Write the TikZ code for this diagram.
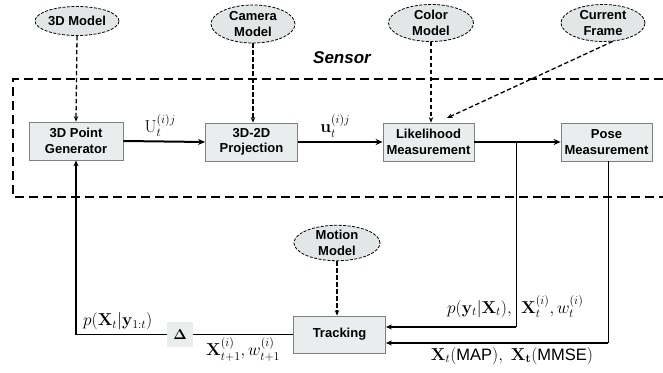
\documentclass[tikz,border=0pt]{standalone}
\usepackage{amsmath}
\usepackage[no-math]{fontspec}
\setsansfont{Liberation Sans}
\usetikzlibrary{shapes.geometric,arrows.meta,calc}
\definecolor{boxfill}{HTML}{E9EDED}
\definecolor{ellfill}{HTML}{E3E6E6}
\definecolor{boxline}{HTML}{808080}
\begin{document}
\begin{tikzpicture}[x=1pt,y=-1pt,
  blk/.style={draw=boxline, fill=boxfill, line width=0.8pt, minimum width=92pt, minimum height=38pt,
    inner sep=0pt, align=center, font=\sffamily\bfseries\fontsize{13}{15.5}\selectfont},
  ell/.style={ellipse, draw=black, fill=ellfill, line width=0.8pt, dash pattern=on 3pt off 1.5pt,
    minimum width=84pt, inner sep=0pt, align=center, font=\sffamily\bfseries\fontsize{13}{15.5}\selectfont},
  dsharr/.style={line width=1.3pt, dash pattern=on 4.5pt off 2.5pt, -{Stealth[length=5.5pt,width=4.5pt]}},
  solarr/.style={line width=2pt, -{Stealth[length=7pt,width=6pt]}},
  thin/.style={line width=0.8pt},
  mlab/.style={font=\fontsize{16.5}{18}\selectfont, inner sep=1pt},
  sensorbox/.style={line width=2pt, dash pattern=on 9pt off 5pt}
]
\useasboundingbox (0,0) rectangle (663,372);

% Sensor frame
\draw[sensorbox] (663,79) -- (13,79) -- (13,197) -- (663,197);
\node[font=\sffamily\bfseries\itshape\fontsize{17}{19}\selectfont] (sensor) at (342,58) {Sensor};

% blocks
\node[blk, minimum width=94pt] (gen) at (76,141) {3D Point\\Generator};
\node[blk] (proj) at (251.5,142) {3D-2D\\Projection};
\node[blk, minimum width=91pt] (lik) at (428.5,142) {Likelihood\\Measurement};
\node[blk, minimum width=91pt] (pose) at (606.5,142) {Pose\\Measurement};
\node[blk, minimum height=37pt] (track) at (339.5,334.5) {Tracking};
\node[fill=boxfill, minimum width=26pt, minimum height=25pt, inner sep=0pt, font=\fontsize{15}{17}\selectfont] (delta) at (180,334.5) {$\boldsymbol{\Delta}$};

% ellipses
\node[ell, minimum height=29pt] (m3d) at (77,21) {3D Model};
\node[ell, minimum height=38pt] (cam) at (253,24) {Camera\\Model};
\node[ell, minimum height=37pt, minimum width=85pt] (col) at (431,23) {Color\\Model};
\node[ell, minimum height=37pt] (cur) at (603,23) {Current\\Frame};
\node[ell, minimum height=29pt, minimum width=86pt] (mot) at (337,243) {Motion\\Model};

% dashed inputs
\draw[dsharr] (m3d.south) -- (gen.north);
\draw[dsharr] (cam.south) -- (cam.south |- proj.north);
\draw[dsharr] (col.south) -- (col.south |- lik.north);
\coordinate (curend) at (447,118);
\draw[dsharr] (cur.-62) -- (curend);
\draw[dsharr] (mot.south) -- (mot.south |- track.north);

% forward chain
\draw[solarr] (gen.east) -- node[mlab, above=3pt, xshift=-4pt] {$\mathrm{U}_t^{(i)j}$} (proj.west);
\draw[solarr] (proj.east) -- node[mlab, above=3pt, xshift=-5pt] {$\mathbf{u}_t^{(i)j}$} (proj.east -| lik.west);
\draw[solarr] (lik.east) -- (lik.east -| pose.west);

% feedback to tracking
\coordinate (br1) at (516,143);
\coordinate (c1) at (516,327);
\coordinate (c2) at (608,343);
\draw[thin] (br1) -- (c1);
\draw[line width=1.6pt, -{Stealth[length=6pt,width=5pt]}] (c1) -- (c1 -| track.east);
\draw[thin] (pose.south -| c2) -- (c2);
\draw[line width=1.6pt, -{Stealth[length=6pt,width=5pt]}] (c2) -- (c2 -| track.east);

\node[mlab, anchor=base east] (lab1) at (513,313) {$p(\mathbf{y}_t|\mathbf{X}_t),$};
\node[mlab, anchor=base west] (lab2) at (520,313) {$\mathbf{X}_t^{(i)},w_t^{(i)}$};
\node[mlab] (lab3) at (512,356) {$\mathbf{X}_t(\textsf{MAP}),\ \mathbf{X}_\mathbf{t}(\textsf{MMSE})$};

% feedback to generator
\coordinate (corner) at (gen.south |- delta.west);
\draw[thin] (track.west) -- node[mlab, below=2pt] {$\mathbf{X}_{t+1}^{(i)},w_{t+1}^{(i)}$} (delta.east);
\draw[thin] (delta.west) -- (corner);
\draw[line width=1.5pt, -{Stealth[length=6pt,width=5pt]}] (corner) -- (gen.south);
\node[mlab, anchor=south west] (lab4) at ($(corner)+(6,-3)$) {$p(\mathbf{X}_t|\mathbf{y}_{1:t})$};
\end{tikzpicture}
\end{document}
